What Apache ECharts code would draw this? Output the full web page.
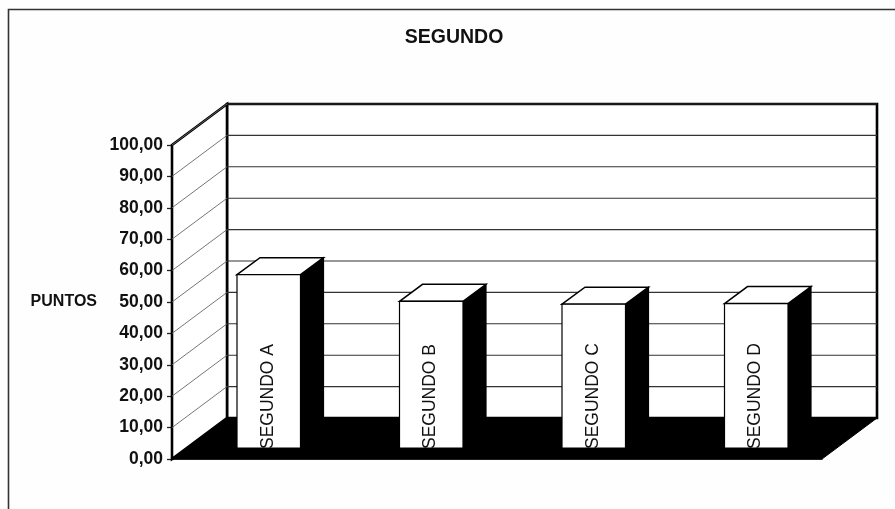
<!DOCTYPE html>
<html>
<head>
<meta charset="utf-8">
<style>html,body{margin:0;padding:0;background:#fff}#c{width:895px;height:509px}</style>
<script src="https://cdn.jsdelivr.net/npm/echarts@6/dist/echarts.min.js"></script>
</head>
<body>
<div id="c"></div>
<script>
var titleText = 'SEGUNDO';
var yAxisName = 'PUNTOS';
var categories = ['SEGUNDO A', 'SEGUNDO B', 'SEGUNDO C', 'SEGUNDO D'];
var values = [55.2, 46.7, 45.8, 46];
var yTicks = [0, 10, 20, 30, 40, 50, 60, 70, 80, 90, 100];

var FONT = '"Liberation Sans", Arial, sans-serif';
var WALL_DX = 55, WALL_DY = 41;      // 3D depth of the chart box
var BAR_SHIFT_X = 15.5, BAR_SHIFT_Y = 11; // bar position inside the box
var BAR_DX = 23, BAR_DY = 17;        // 3D depth of a bar
var BAR_W = 63.5;

function lineEl(x1, y1, x2, y2, color, w) {
  return {type: 'line', shape: {x1: x1, y1: y1, x2: x2, y2: y2}, style: {stroke: color, lineWidth: w, fill: null}};
}
function polyEl(pts, fill, stroke, w) {
  return {type: 'polygon', shape: {points: pts}, style: {fill: fill, stroke: stroke, lineWidth: w, lineJoin: 'miter'}};
}

function renderBox(params, api) {
  var cs = params.coordSys;
  var x0 = cs.x, x1 = cs.x + cs.width;
  var y0 = api.coord([0, 0])[1], y100 = api.coord([0, 100])[1];
  return {type: 'group', children: [
    polyEl([[x0 + WALL_DX, y100 - WALL_DY], [x1 + WALL_DX, y100 - WALL_DY], [x1 + WALL_DX, y0 - WALL_DY], [x0 + WALL_DX, y0 - WALL_DY]], '#fff', '#000', 2.6),
    polyEl([[x0, y100], [x0 + WALL_DX, y100 - WALL_DY], [x0 + WALL_DX, y0 - WALL_DY], [x0, y0]], '#fff', '#000', 2.6),
    polyEl([[x0, y0], [x0 + WALL_DX, y0 - WALL_DY], [x1 + WALL_DX, y0 - WALL_DY], [x1, y0]], '#000', '#000', 1)
  ]};
}

function renderGrid(params, api) {
  var cs = params.coordSys;
  var x0 = cs.x, x1 = cs.x + cs.width;
  var y = api.coord([0, api.value(1)])[1];
  return {type: 'group', children: [
    lineEl(x0, y, x0 + WALL_DX, y - WALL_DY, '#666', 0.9),
    lineEl(x0 + WALL_DX, y - WALL_DY, x1 + WALL_DX, y - WALL_DY, '#333', 1.1)
  ]};
}

function renderBar(params, api) {
  var idx = api.value(0);
  var top = api.coord([idx, api.value(1)]);
  var base = api.coord([idx, 0]);
  var l = top[0] + BAR_SHIFT_X - BAR_W / 2, r = l + BAR_W;
  var t = top[1] - BAR_SHIFT_Y, b = base[1] - BAR_SHIFT_Y;
  return {type: 'group', children: [
    polyEl([[r, t], [r + BAR_DX, t - BAR_DY], [r + BAR_DX, b - BAR_DY], [r, b]], '#000', '#000', 1.2),
    polyEl([[l, t], [l + BAR_DX, t - BAR_DY], [r + BAR_DX, t - BAR_DY], [r, t]], '#fff', '#000', 1.5),
    polyEl([[l, t], [r, t], [r, b], [l, b]], '#fff', '#000', 1.2),
    {type: 'text', x: (l + r) / 2 - 1, y: b + 1, rotation: Math.PI / 2,
      style: {text: categories[idx], font: '17.5px ' + FONT, fill: '#111', textAlign: 'left', textVerticalAlign: 'middle'}}
  ]};
}

var chart = echarts.init(document.getElementById('c'));
chart.setOption({
  animation: false,
  backgroundColor: '#fefefe',
  title: {text: titleText, left: 449, top: 23, textAlign: 'center',
    textStyle: {fontFamily: FONT, fontSize: 19.5, fontWeight: 'bold', color: '#111'}},
  graphic: [{type: 'rect', shape: {x: 8.5, y: 9.5, width: 950, height: 600}, z: -10,
    style: {fill: null, stroke: '#333', lineWidth: 1.6}}],
  grid: {left: 172, right: 73, top: 145, bottom: 50},
  xAxis: {type: 'category', data: categories, axisLabel: {show: false}, axisTick: {show: false},
    axisLine: {show: true, lineStyle: {color: '#000', width: 1.5}}},
  yAxis: {type: 'value', min: 0, max: 100, interval: 10, name: yAxisName, nameLocation: 'middle',
    nameRotate: 0, nameGap: 75,
    nameTextStyle: {fontFamily: FONT, fontSize: 16, fontWeight: 'bold', color: '#111', padding: [0, 0, 5, 0]},
    splitLine: {show: false},
    axisLine: {show: true, lineStyle: {color: '#000', width: 2.6}},
    axisTick: {show: true, length: 5, lineStyle: {color: '#222', width: 1.3}},
    axisLabel: {margin: 9, fontFamily: FONT, fontSize: 17.5, fontWeight: 'bold', color: '#111',
      formatter: function (v) { return v.toFixed(2).replace('.', ','); }}},
  series: [
    {type: 'custom', coordinateSystem: 'cartesian2d', renderItem: renderBox, data: [[0, 0]], z: 1, silent: true},
    {type: 'custom', coordinateSystem: 'cartesian2d', renderItem: renderGrid,
      data: yTicks.slice(1).map(function (v) { return [0, v]; }), z: 2, silent: true},
    {type: 'custom', coordinateSystem: 'cartesian2d', renderItem: renderBar,
      data: values.map(function (v, i) { return [i, v]; }), z: 3, silent: true, clip: false}
  ]
});
</script>
</body>
</html>
